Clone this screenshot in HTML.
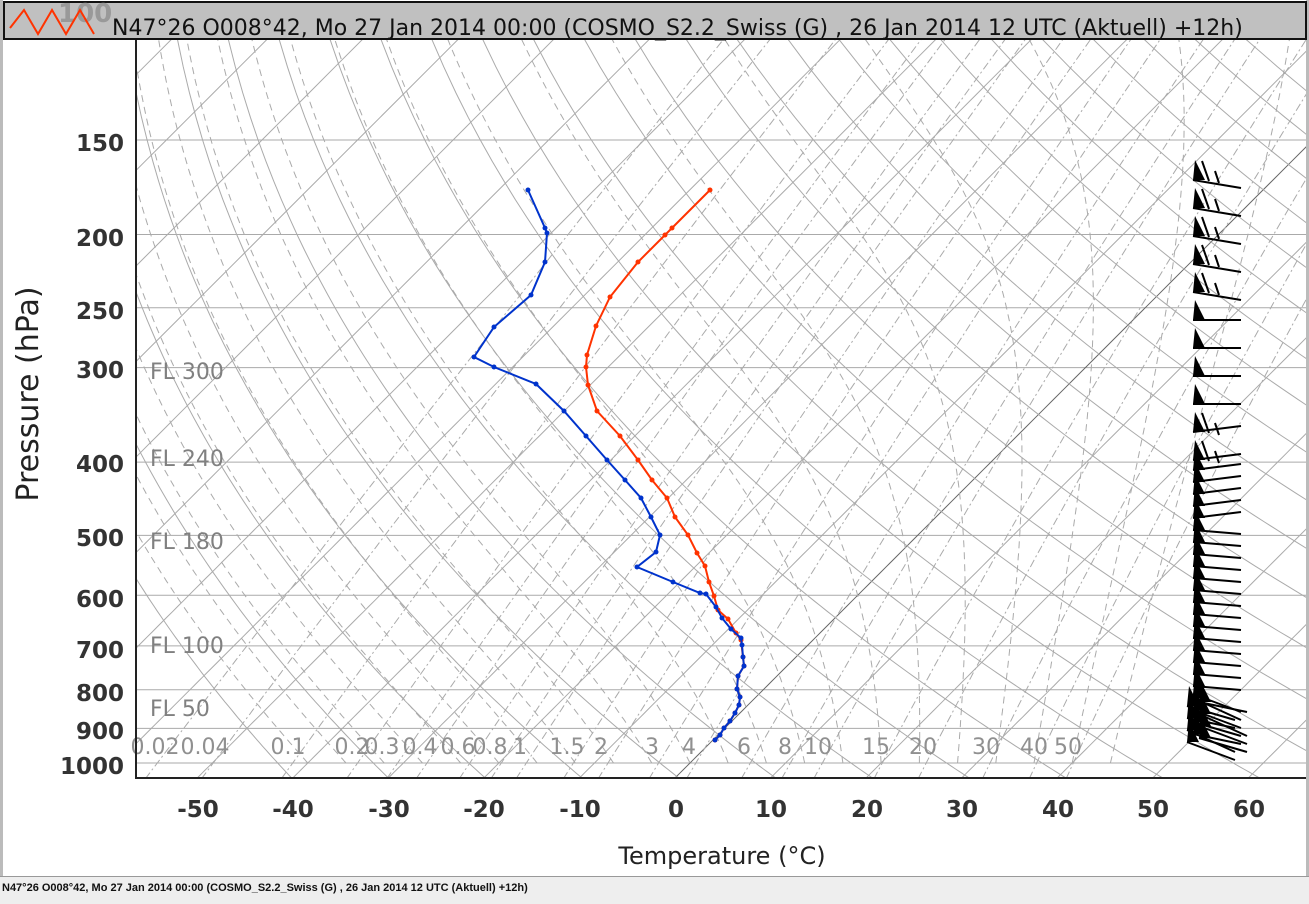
<!DOCTYPE html>
<html><head><meta charset="utf-8"><style>
body{margin:0;background:#fff;width:1309px;height:904px;overflow:hidden;font-family:"DejaVu Sans","Liberation Sans",sans-serif}
svg{position:absolute;left:0;top:0}
</style></head><body>
<svg id="s" width="1309" height="904" xmlns="http://www.w3.org/2000/svg" font-family="DejaVu Sans, Liberation Sans, sans-serif">
<rect x="0" y="0" width="1309" height="904" fill="#fff"/>
<rect x="0" y="0" width="3" height="878" fill="#bbb"/>
<rect x="1306" y="0" width="3" height="878" fill="#bbb"/>
<rect x="0" y="876" width="1309" height="28" fill="#eeeeee"/>
<line x1="0" y1="876.5" x2="1309" y2="876.5" stroke="#999"/>
<defs><clipPath id="c"><rect x="137" y="40" width="1169" height="738"/></clipPath></defs>
<g id="grid" clip-path="url(#c)" fill="none"></g>
<g font-size="22" fill="#808080">
<text x="150" y="379">FL 300</text><text x="150" y="466">FL 240</text><text x="150" y="549">FL 180</text><text x="150" y="653">FL 100</text><text x="150" y="716">FL 50</text>
</g>
<g font-size="22" fill="#909090" text-anchor="middle">
<text x="155" y="754">0.02</text><text x="205" y="754">0.04</text><text x="288" y="754">0.1</text><text x="352" y="754">0.2</text><text x="382" y="754">0.3</text><text x="420" y="754">0.4</text><text x="458" y="754">0.6</text><text x="490" y="754">0.8</text><text x="520" y="754">1</text><text x="567" y="754">1.5</text><text x="601" y="754">2</text><text x="652" y="754">3</text><text x="689" y="754">4</text><text x="744" y="754">6</text><text x="785" y="754">8</text><text x="818" y="754">10</text><text x="876" y="754">15</text><text x="923" y="754">20</text><text x="986" y="754">30</text><text x="1034" y="754">40</text><text x="1068" y="754">50</text>
</g>
<g id="data"></g>
<g id="wind"></g>
<line x1="136" y1="40" x2="136" y2="779" stroke="#222" stroke-width="2"/>
<line x1="136" y1="778" x2="1306" y2="778" stroke="#222" stroke-width="2"/>
<g font-size="23" font-weight="bold" fill="#333" text-anchor="end">
<text x="124" y="151">150</text><text x="124" y="246">200</text><text x="124" y="319">250</text><text x="124" y="378">300</text><text x="124" y="472">400</text><text x="124" y="546">500</text><text x="124" y="607">600</text><text x="124" y="658">700</text><text x="124" y="701">800</text><text x="124" y="739">900</text><text x="124" y="774">1000</text>
</g>
<g font-size="23" font-weight="bold" fill="#333" text-anchor="middle">
<text x="198" y="817">-50</text><text x="293" y="817">-40</text><text x="389" y="817">-30</text><text x="484" y="817">-20</text><text x="580" y="817">-10</text><text x="676" y="817">0</text><text x="771" y="817">10</text><text x="867" y="817">20</text><text x="962" y="817">30</text><text x="1058" y="817">40</text><text x="1153" y="817">50</text><text x="1249" y="817">60</text>
</g>
<text x="722" y="864" font-size="24" fill="#222" text-anchor="middle">Temperature (°C)</text>
<text transform="translate(38,394) rotate(-90)" font-size="30" fill="#222" text-anchor="middle">Pressure (hPa)</text>
<rect x="4" y="2" width="1302" height="37" fill="#c0c0c0" stroke="#111" stroke-width="2"/>
<text x="58" y="22" font-size="26" font-weight="bold" fill="#999">100</text>
<polyline points="10,28 24,10 38,34 52,10 66,34 80,10 94,34" fill="none" stroke="#ff3300" stroke-width="2"/>
<text x="112" y="35" font-size="22" fill="#111">N47°26 O008°42, Mo 27 Jan 2014 00:00 (COSMO_S2.2_Swiss (G) , 26 Jan 2014 12 UTC (Aktuell) +12h)</text>
<text x="2" y="891" font-size="11" font-weight="bold" fill="#111" font-family="Liberation Sans, sans-serif">N47°26 O008°42, Mo 27 Jan 2014 00:00 (COSMO_S2.2_Swiss (G) , 26 Jan 2014 12 UTC (Aktuell) +12h)</text>
</svg>
<script>
var NS="http://www.w3.org/2000/svg";
function Y(p){return 763-328.4*Math.log(1000/p);}
function X(T,p){return 675+9.555*T+(778-Y(p));}
function add(g,tag,a){var e=document.createElementNS(NS,tag);for(var k in a)e.setAttribute(k,a[k]);g.appendChild(e);return e;}
var G=document.getElementById("grid");
var ps=[];for(var p=1050;p>=100;p-=10)ps.push(p);
function path(f,dash,col,w){var d="";ps.forEach(function(p,i){var T=f(p);if(T===null)return;d+=(d?"L":"M")+X(T,p).toFixed(1)+","+Y(p).toFixed(1);});var a={d:d,stroke:col||"#aaa","stroke-width":w||1};if(dash)a["stroke-dasharray"]=dash;add(G,"path",a);}
[150,200,250,300,400,500,600,700,800,900,1000].forEach(function(p){add(G,"line",{x1:137,x2:1306,y1:Y(p),y2:Y(p),stroke:"#aaa","stroke-width":1});});
for(var T=-160;T<=60;T+=10){(function(T){path(function(){return T;},null,T==0?"#666":"#aaa",1);})(T);}
for(var th=230;th<=480;th+=10){(function(th){path(function(p){return th*Math.pow(p/1000,0.286)-273.15;},null,"#aaa",1);})(th);}
function es(t){return 6.112*Math.exp(17.67*t/(t+243.5));}
for(var T0=-40;T0<=44;T0+=4){
  var d="",T=T0+273.15;
  for(var p=1000;p>=110;p-=5){
    var tc=T-273.15;var e=es(tc);var rs=0.622*e/(p-e);
    var dTdp=(287*T+2.5e6*rs)/(p*(1004+2.5e6*2.5e6*rs*0.622/(287*T*T)));
    d+=(d?"L":"M")+X(tc,p).toFixed(1)+","+Y(p).toFixed(1);
    T-=dTdp*5;
  }
  add(G,"path",{d:d,stroke:"#aaa","stroke-width":1,"stroke-dasharray":"7,5"});
}
[0.02,0.04,0.1,0.2,0.3,0.4,0.6,0.8,1,1.5,2,3,4,6,8,10,15,20,30,40,50].forEach(function(w){
  path(function(p){var e=w*p/(622+w);var l=Math.log(e/6.112);return 243.5*l/(17.67-l);},"8,3,2,3","#aaa",1);
});
var D=document.getElementById("data");
var red=[[710,190],[672,228],[665,235],[638,262],[610,297],[596,326],[587,355],[586,367],[588,385],[597,411],[620,436],[638,460],[652,480],[667,498],[675,517],[688,535],[697,553],[705,566],[709,582],[714,596],[718,610],[728,619],[736,633],[741,640],[743,657],[744,666],[738,676],[737,689],[740,697],[739,705],[735,713],[730,721],[724,728],[720,735],[715,740]];
var blue=[[528,190],[545,228],[547,233],[545,262],[531,295],[494,327],[474,357],[494,367],[536,384],[564,411],[586,436],[607,460],[625,480],[641,498],[651,517],[660,535],[656,552],[637,567],[673,582],[700,593],[706,594],[716,607],[722,618],[731,629],[741,638],[742,645],[743,657],[744,666],[738,676],[737,689],[740,697],[739,705],[735,713],[730,721],[724,728],[720,735],[715,740]];
function series(pts,c){add(D,"polyline",{points:pts.map(function(q){return q.join(",");}).join(" "),fill:"none",stroke:c,"stroke-width":2});pts.forEach(function(q){add(D,"circle",{cx:q[0],cy:q[1],r:2.5,fill:c});});}
series(red,"#ff3300");series(blue,"#0033cc");
var W=document.getElementById("wind");
var ys=[];for(var y=180;y<=460;y+=28)ys.push(y);for(y=470;y<=690;y+=12)ys.push(y);for(y=694;y<=742;y+=4)ys.push(y);
ys.forEach(function(y,i){
  var x0=1193+(y>700?(i%3-1)*6:0);
  var dy=y<300?8:y<420?0:y<520?-6:y<690?4:10+(i%4)*4;
  var x1=x0+48,y1=y+dy;
  add(W,"line",{x1:x0,y1:y,x2:x1,y2:y1,stroke:"#000","stroke-width":2});
  add(W,"polygon",{points:x0+","+y+" "+(x0+2)+","+(y-20)+" "+(x0+12)+","+y,fill:"#000"});
  if(y<320||(y>420&&y<470)){add(W,"line",{x1:x0+16,y1:y+1,x2:x0+9,y2:y-19,stroke:"#000","stroke-width":2});add(W,"line",{x1:x0+26,y1:y+3,x2:x0+22,y2:y-9,stroke:"#000","stroke-width":2});}
});
</script>
</body></html>
